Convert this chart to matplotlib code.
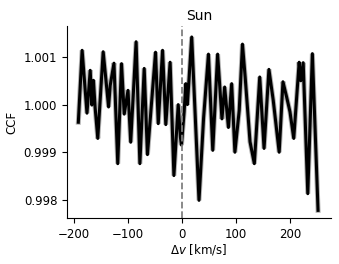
import matplotlib
matplotlib.use("Agg")
import matplotlib.pyplot as plt

title = "Sun"
dv = [-192, -185, -176, -170, -167, -164, -161, -156, -146, -136, -133, -126,
      -119, -112, -107, -100, -95, -85, -78, -70, -64, -49, -44, -36, -30, -22,
      -15, -7, -3, -1, 4, 7, 10, 18, 31.5, 40, 49, 57, 66, 74, 79, 86, 92, 98,
      106, 112, 117, 126, 134, 144, 152, 161, 169, 180, 187, 194, 200, 207, 217,
      220, 224.5, 233, 241.5, 252]
ccf = [0.99963, 1.00114, 0.99982, 1.00072, 0.99999, 1.00051, 0.99995, 0.99929,
       1.00111, 0.99995, 1.00040, 1.00087, 0.99876, 1.00086, 0.99980, 1.00030,
       0.99921, 1.00132, 0.99876, 1.00076, 0.99895, 1.00110, 0.99960, 1.00114,
       0.99958, 1.00089, 0.99851, 1.00000, 0.99932, 0.99915, 0.99985, 1.00044,
       1.00000, 1.00142, 0.99799, 0.99972, 1.00106, 0.99904, 1.00106, 0.99970,
       1.00037, 0.99952, 1.00044, 0.99900, 0.99988, 1.00127, 1.00058, 0.99922,
       0.99876, 1.00058, 0.99908, 1.00074, 1.00009, 0.99900, 1.00048, 1.00015,
       0.99985, 0.99929, 1.00089, 1.00050, 1.00088, 0.99813, 1.00107, 0.99778]
xticks = [-200, -100, 0, 100, 200]
yticks = [0.998, 0.999, 1.000, 1.001]

fig = plt.figure(figsize=(3.39, 2.64), dpi=100)
ax = fig.add_axes([67/339, 46/264, 264/339, 192/264])
ax.plot(dv, ccf, color="gray", lw=3.6, alpha=0.6, solid_joinstyle="miter")
ax.plot(dv, ccf, color="black", lw=2.2)
ax.axvline(0, color="gray", ls="--", lw=1.3)
ax.set_xlim(-213, 276)
ax.set_ylim(0.99762, 1.00165)
ax.set_xticks(xticks)
ax.set_yticks(yticks)
ax.set_yticklabels([f"{v:.3f}" for v in yticks])
ax.tick_params(labelsize=8.5)
ax.set_xlabel(r"$\Delta v$ [km/s]", fontsize=8.5, labelpad=1)
ax.set_ylabel("CCF", fontsize=8.5)
ax.set_title(title, fontsize=10, pad=4)
ax.spines["top"].set_visible(False)
ax.spines["right"].set_visible(False)
fig.savefig("out.png", dpi=100)
